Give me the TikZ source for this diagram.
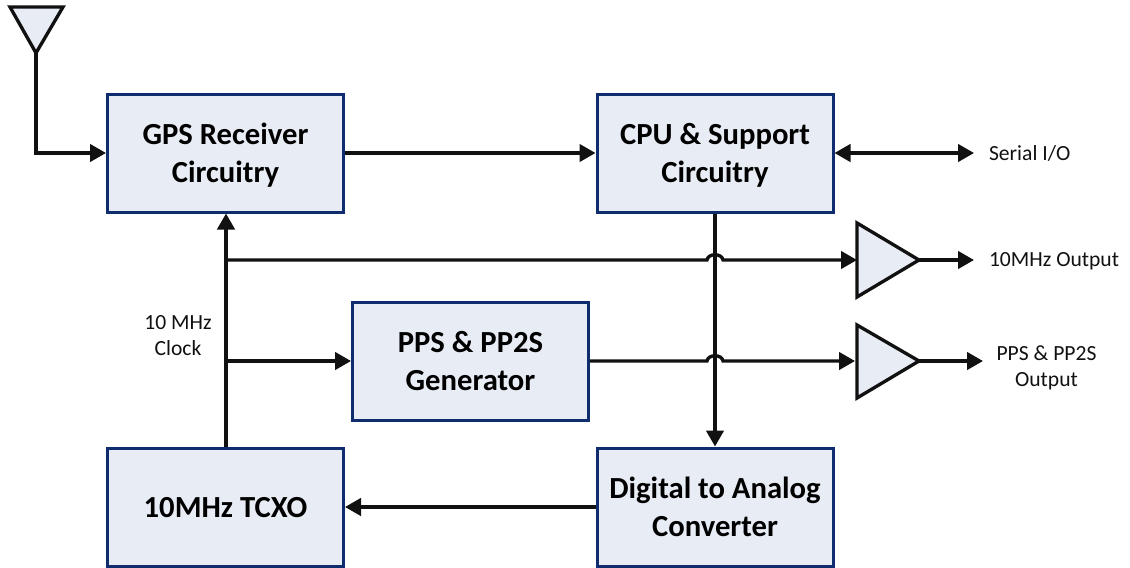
\documentclass[tikz,border=0pt]{standalone}
\usepackage{fontspec}
\setmainfont{Carlito}
\usetikzlibrary{arrows.meta}
\definecolor{boxfill}{RGB}{232,237,245}
\definecolor{boxline}{RGB}{15,45,110}
\definecolor{wireline}{RGB}{17,17,17}
\tikzset{every picture/.style={line width=2.25pt}}
\tikzset{
  blockbox/.style={draw=boxline,fill=boxfill,line width=2.25pt,minimum width=177pt,minimum height=88.5pt,inner sep=0pt,align=center,text depth=0pt,font=\fontsize{23}{28.5}\selectfont\bfseries},
  ampshape/.style={draw=wireline,fill=boxfill,line width=2.5pt,line join=miter},
  wire/.style={draw=wireline,line width=2.5pt,-{Triangle[length=12pt,width=13pt]}},
  smalltext/.style={inner sep=0pt,align=center,text depth=0pt,text=wireline,font=\fontsize{16.2}{19.5}\selectfont}
}
\begin{document}
\begin{tikzpicture}[x=0.75pt,y=0.75pt,yscale=-1,xscale=1]
\useasboundingbox (0,0) rectangle (1130,567);

%Blocks
\node [blockbox] (gps) at (225.5,153) {GPS Receiver\\Circuitry};
\node [blockbox] (cpu) at (715,153) {CPU \& Support\\Circuitry};
\node [blockbox] (pps) at (470.5,361) {PPS \& PP2S\\Generator};
\node [blockbox] (tcxo) at (225.5,507) {10MHz TCXO};
\node [blockbox] (dac) at (715,507) {Digital to Analog\\Converter};

%Antenna and amplifiers
\coordinate (antfoot) at (36,53);
\coordinate (amp1in) at (857,260);
\coordinate (amp1out) at (919,260);
\coordinate (amp2in) at (857,361);
\coordinate (amp2out) at (919,361);
\draw [ampshape] (10,7) -- (63,7) -- (antfoot) -- cycle;
\draw [ampshape] (857,223) -- (857,297) -- (amp1out) -- cycle;
\draw [ampshape] (857,325) -- (857,398) -- (amp2out) -- cycle;

%Tap points and free ends
\coordinate (antcorner) at (36,153);
\coordinate (tap1) at (226,260);
\coordinate (tap2) at (226,361);
\coordinate (serialend) at (974,153);
\coordinate (out1end) at (974,260);
\coordinate (out2end) at (983,361);

%Straight Lines
\draw [wire] (antfoot) -- (antcorner) -- (gps.west);
\draw [wire] (gps.east) -- (cpu.west);
\draw [wire,{Triangle[length=12pt,width=13pt]}-{Triangle[length=12pt,width=13pt]}] (cpu.east) -- (serialend);
\draw [wire] (cpu.south) -- (dac.north);
\draw [wire] (tcxo.north -| tap1) -- (gps.south -| tap1);
\draw [wire] (tap2) -- (tap2 -| pps.west);
\draw [wire] (dac.west) -- (tcxo.east);
\draw [wire] (amp1out) -- (out1end);
\draw [wire] (amp2out) -- (out2end);

%Lines with a hop over the CPU line
\draw [wire] (tap1) -- (707,260) .. controls (708,253) and (722,253) .. (723,260) -- (amp1in);
\draw [wire] (pps.east) -- (707,361) .. controls (708,354) and (722,354) .. (723,361) -- (855,361);

% Text Node
\node [smalltext,anchor=base west] (seriallabel) at (987.5,160) {Serial I/O};
\node [smalltext,anchor=base west] (out1label) at (987.5,266) {10MHz Output};
\node [smalltext] (out2label) at (1046.5,366) {PPS \& PP2S\\Output};
\node [smalltext] (clocklabel) at (178,335) {10 MHz\\Clock};

\end{tikzpicture}
\end{document}
